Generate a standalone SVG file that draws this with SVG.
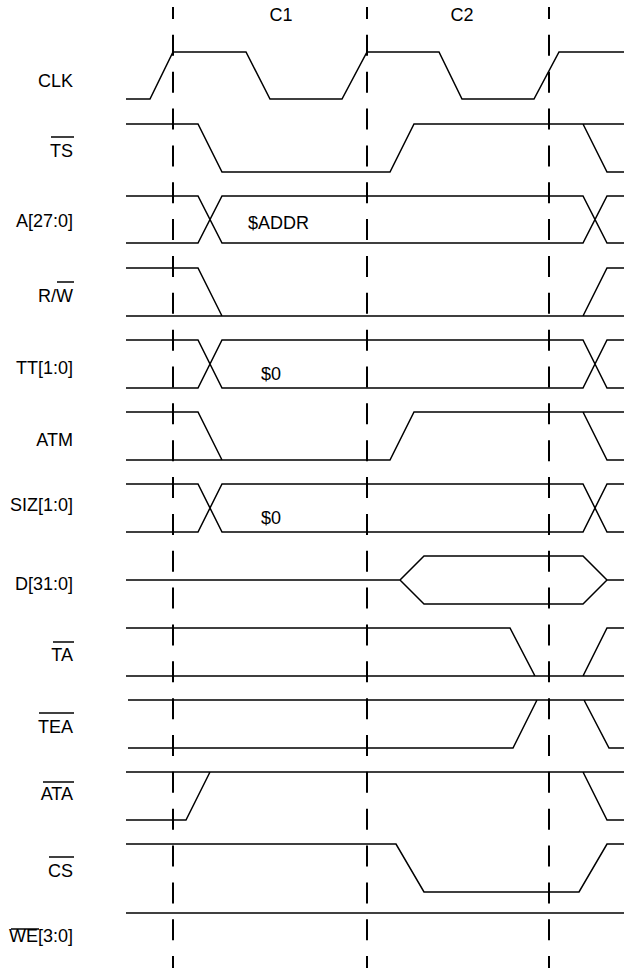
<svg xmlns="http://www.w3.org/2000/svg" width="624" height="968" viewBox="0 0 624 968">
<style>
.sig{fill:none;stroke:#000;stroke-width:1.5;stroke-linejoin:miter}
.grid line{stroke:#000;stroke-width:2;stroke-dasharray:21 15.85;stroke-dashoffset:9}
.lbl{font-family:"Liberation Sans",Arial,sans-serif;font-size:18px;fill:#000;text-anchor:end}
.val{font-family:"Liberation Sans",Arial,sans-serif;font-size:18px;fill:#000}
.ov{stroke:#000;stroke-width:1.5}
</style>
<rect width="624" height="968" fill="#fff"/>
<g id="grid" class="grid">
<line x1="173" y1="7" x2="173" y2="968"/>
<line x1="367" y1="7" x2="367" y2="968"/>
<line x1="549" y1="7" x2="549" y2="968"/>
</g>
<g id="cycles">
<text class="val" x="281" y="21" text-anchor="middle">C1</text>
<text class="val" x="462" y="21" text-anchor="middle">C2</text>
</g>
<g id="CLK">
<text class="lbl" x="73" y="87">CLK</text>
<path class="sig" d="M126,99 H150 L173,52 H246 L270,99 H342 L367,52 H439 L462,99 H534 L559,52 H624"/>
</g>
<g id="TS">
<text class="lbl" x="73" y="157">TS</text>
<line class="ov" x1="51" y1="137" x2="74" y2="137"/>
<path class="sig" d="M126,124 H198 L222,172 H390 L414,124 H624 M583,124 L607,172 H624"/>
</g>
<g id="A">
<text class="lbl" x="73" y="227">A[27:0]</text>
<path class="sig" d="M126,196 H198 L222,243 H583 L607,196 H624 M126,243 H198 L222,196 H583 L607,243 H624"/>
<text class="val" x="248" y="229">$ADDR</text>
</g>
<g id="RW">
<text class="lbl" x="73" y="302">R/W</text>
<line class="ov" x1="57" y1="282" x2="74" y2="282"/>
<path class="sig" d="M126,268 H198 L222,316 M126,316 H624 M583,316 L607,268 H624"/>
</g>
<g id="TT">
<text class="lbl" x="73" y="374">TT[1:0]</text>
<path class="sig" d="M126,340 H198 L222,388 H583 L607,340 H624 M126,388 H198 L222,340 H583 L607,388 H624"/>
<text class="val" x="261" y="380">$0</text>
</g>
<g id="ATM">
<text class="lbl" x="73" y="446">ATM</text>
<path class="sig" d="M126,412 H198 L222,460 M126,460 H390 L414,412 H624 M583,412 L607,460 H624"/>
</g>
<g id="SIZ">
<text class="lbl" x="73" y="511">SIZ[1:0]</text>
<path class="sig" d="M126,484 H198 L222,532 H583 L607,484 H624 M126,532 H198 L222,484 H583 L607,532 H624"/>
<text class="val" x="261" y="524">$0</text>
</g>
<g id="D">
<text class="lbl" x="73" y="590">D[31:0]</text>
<path class="sig" d="M126,580 H400 L424,556 H583 L607,580 H624 M400,580 L424,604 H583 L607,580"/>
</g>
<g id="TA">
<text class="lbl" x="73" y="661">TA</text>
<line class="ov" x1="53" y1="642" x2="74" y2="642"/>
<path class="sig" d="M126,628 H510 L535,676 H583 L607,628 H624 M126,676 H624"/>
</g>
<g id="TEA">
<text class="lbl" x="73" y="733">TEA</text>
<line class="ov" x1="39" y1="713" x2="74" y2="713"/>
<path class="sig" d="M128,700 H624 M128,748 H513 L537,700 M584,700 L609,748 H624"/>
</g>
<g id="ATA">
<text class="lbl" x="73" y="800">ATA</text>
<line class="ov" x1="43" y1="782" x2="74" y2="782"/>
<path class="sig" d="M126,772 H624 M126,820 H186 L210,772 M583,772 L607,820 H624"/>
</g>
<g id="CS">
<text class="lbl" x="73" y="877">CS</text>
<line class="ov" x1="49" y1="857" x2="74" y2="857"/>
<path class="sig" d="M126,844 H396 L424,892 H579 L607,844 H624"/>
</g>
<g id="WE">
<text class="lbl" x="73" y="942">WE[3:0]</text>
<line class="ov" x1="11" y1="929" x2="39" y2="929"/>
<path class="sig" d="M126,913 H624"/>
</g>
</svg>
